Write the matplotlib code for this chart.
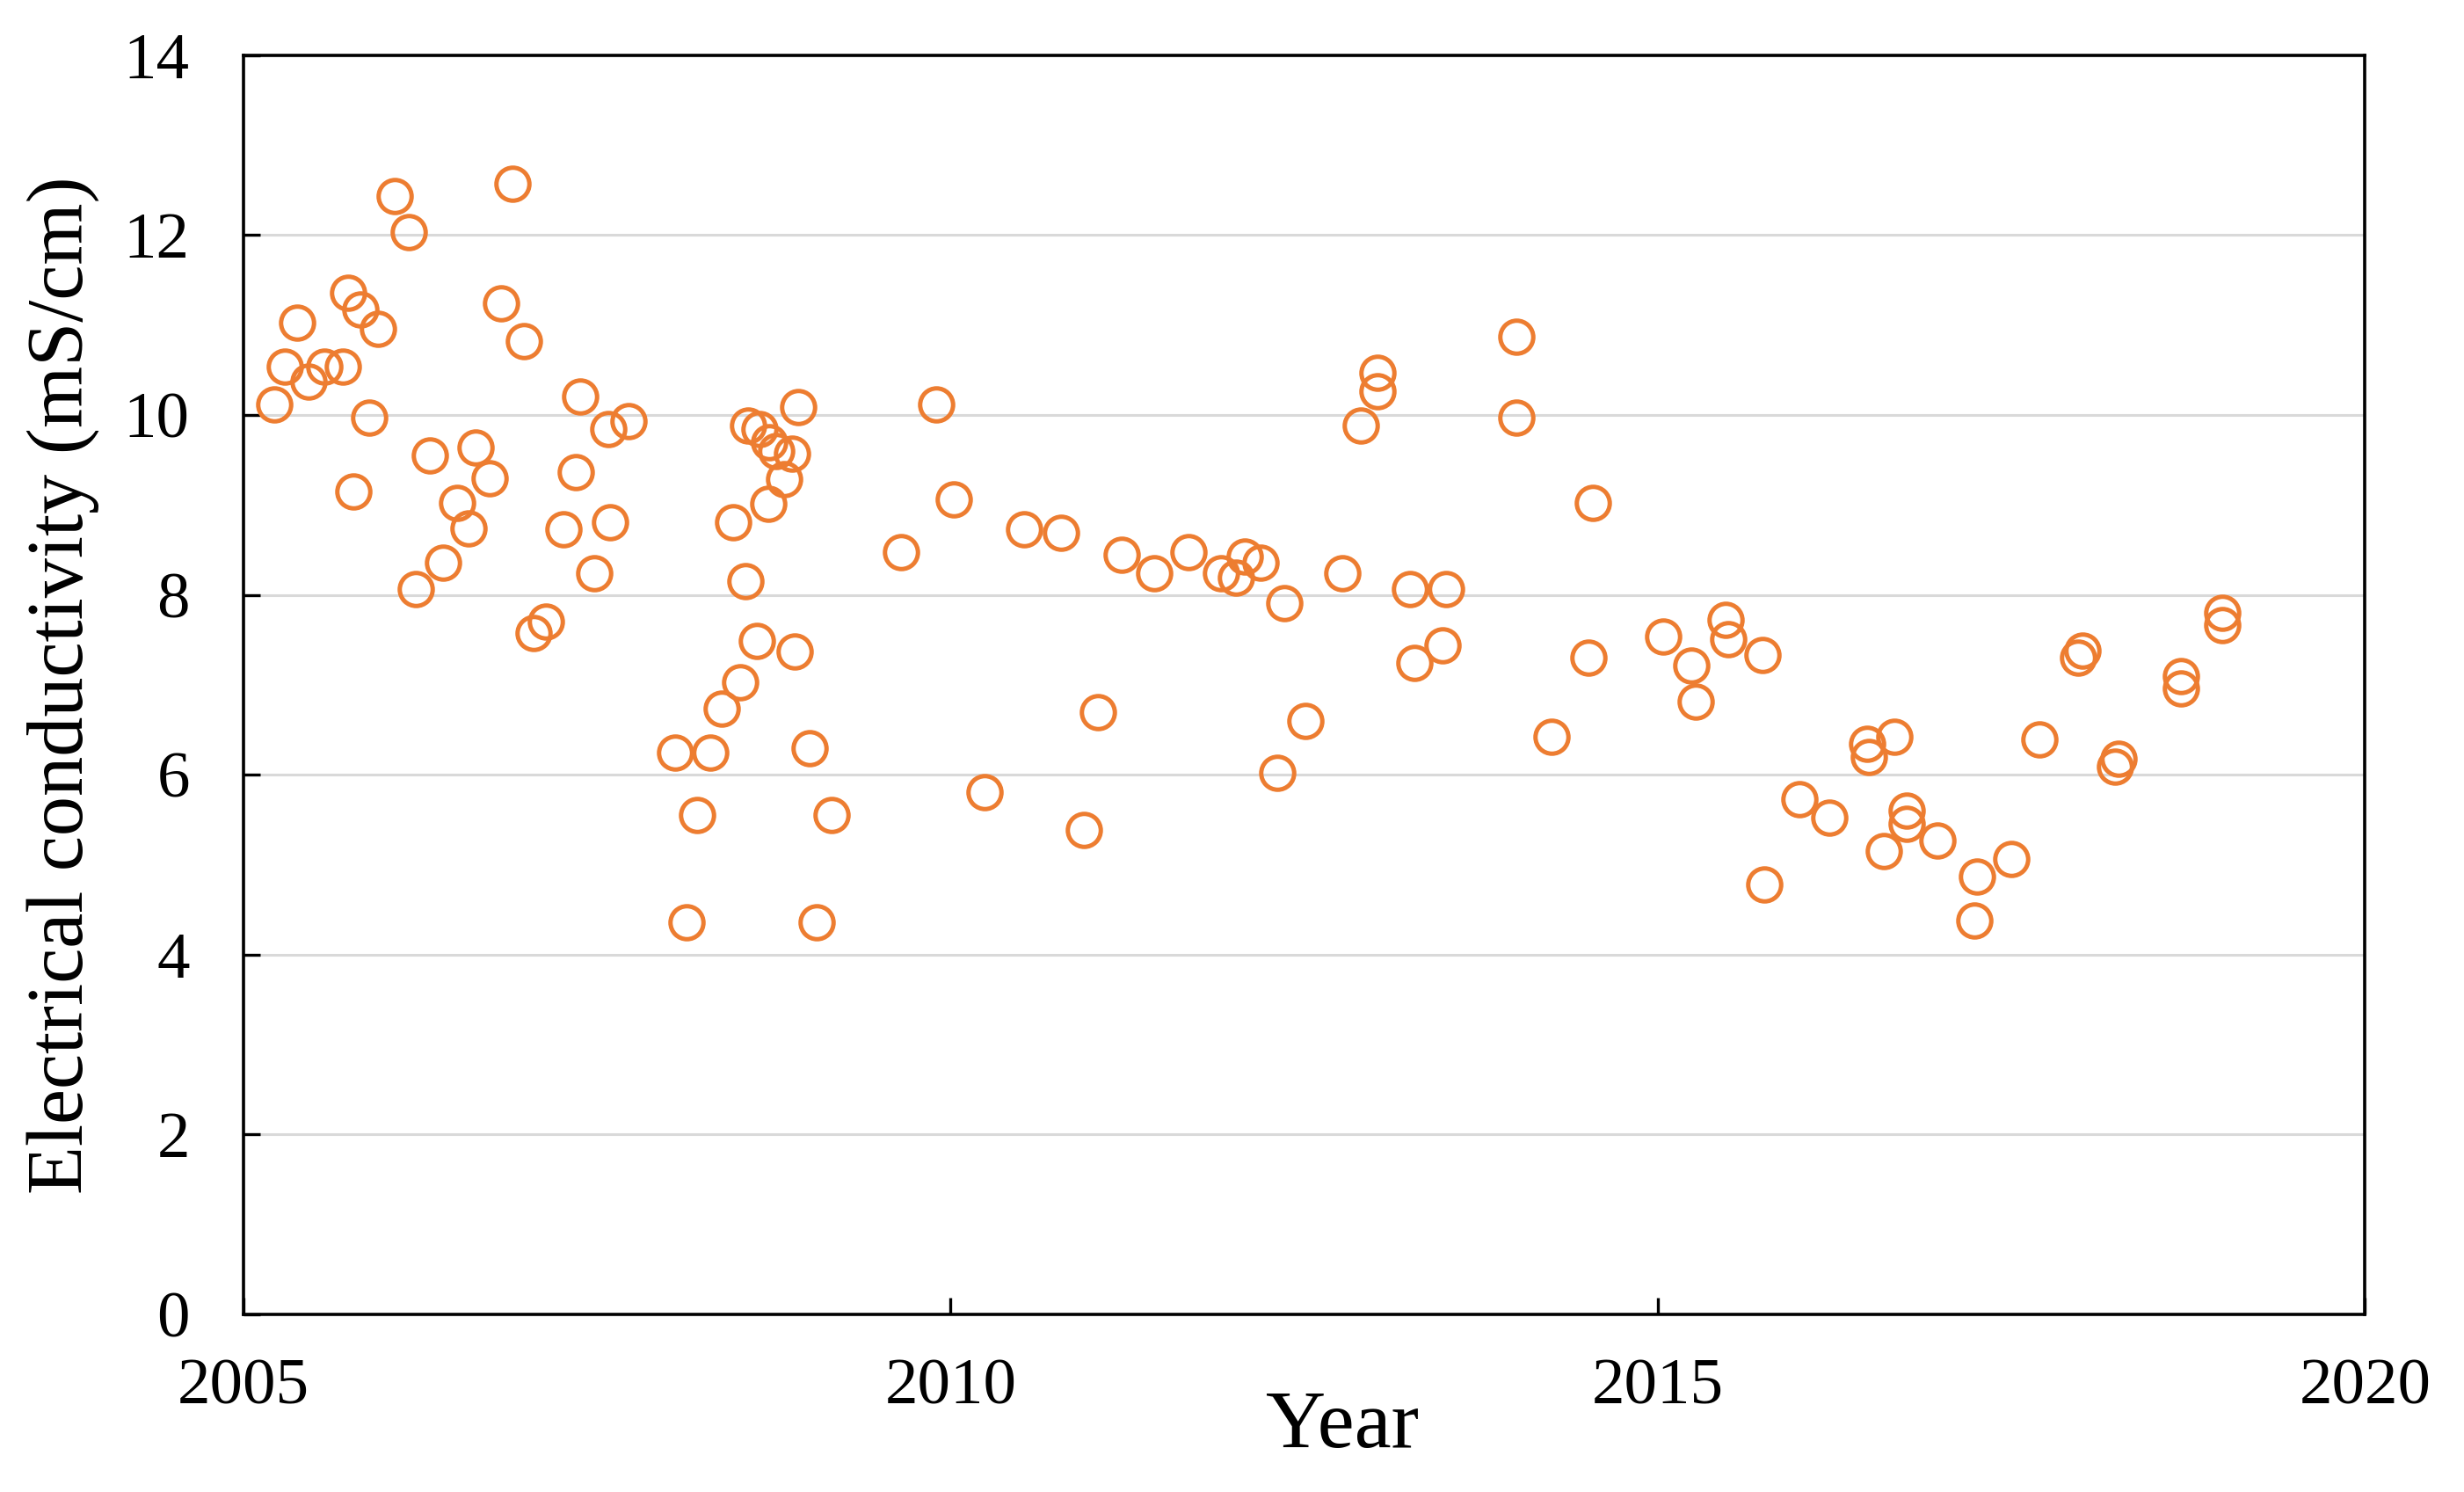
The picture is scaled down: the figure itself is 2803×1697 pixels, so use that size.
import matplotlib.pyplot as plt

# decimal year of each sample
year = [
    2005.22, 2005.29, 2005.38, 2005.46, 2005.57, 2005.70, 2005.74, 2005.78, 2005.83, 2005.89,
    2005.95, 2006.07, 2006.17, 2006.22, 2006.32, 2006.41, 2006.51, 2006.59, 2006.64, 2006.74,
    2006.82, 2006.90, 2006.98, 2007.05, 2007.14, 2007.26, 2007.35, 2007.38, 2007.48, 2007.58,
    2007.59, 2007.72, 2008.05, 2008.13, 2008.21, 2008.30, 2008.38, 2008.46, 2008.51, 2008.55,
    2008.57, 2008.63, 2008.65, 2008.71, 2008.72, 2008.77, 2008.82, 2008.88, 2008.90, 2008.92,
    2009.00, 2009.05, 2009.16, 2009.65, 2009.90, 2010.02, 2010.24, 2010.52, 2010.78, 2010.94,
    2011.04, 2011.21, 2011.44, 2011.68, 2011.91, 2012.02, 2012.08, 2012.19, 2012.31, 2012.36,
    2012.51, 2012.77, 2012.90, 2013.02, 2013.02, 2013.25, 2013.28, 2013.48, 2013.50, 2014.00,
    2014.00, 2014.25, 2014.51, 2014.54, 2015.04, 2015.24, 2015.27, 2015.48, 2015.50, 2015.74,
    2015.75, 2016.00, 2016.21, 2016.48, 2016.49, 2016.60, 2016.67, 2016.76, 2016.76, 2016.98,
    2017.24, 2017.26, 2017.50, 2017.70, 2017.97, 2018.00, 2018.23, 2018.26, 2018.70, 2018.70,
    2018.99, 2018.99,
]

# electrical conductivity (mS/cm)
ec = [
    10.12, 10.54, 11.03, 10.37, 10.54, 10.54, 11.36, 9.15, 11.17, 9.97,
    10.96, 12.43, 12.03, 8.06, 9.55, 8.36, 9.02, 8.74, 9.64, 9.30,
    11.24, 12.57, 10.82, 7.58, 7.70, 8.73, 9.36, 10.21, 8.24, 9.84,
    8.81, 9.93, 6.25, 4.36, 5.55, 6.25, 6.74, 8.81, 7.03, 8.15,
    9.88, 7.49, 9.84, 9.01, 9.70, 9.60, 9.29, 9.57, 7.37, 10.09,
    6.30, 4.36, 5.55, 8.48, 10.12, 9.06, 5.81, 8.73, 8.69, 5.39,
    6.70, 8.45, 8.24, 8.48, 8.24, 8.19, 8.43, 8.36, 6.02, 7.91,
    6.60, 8.24, 9.88, 10.47, 10.26, 8.06, 7.24, 7.44, 8.06, 10.87,
    9.97, 6.42, 7.30, 9.02, 7.54, 7.21, 6.81, 7.72, 7.51, 7.33,
    4.78, 5.73, 5.52, 6.34, 6.20, 5.15, 6.42, 5.60, 5.45, 5.27,
    4.38, 4.87, 5.06, 6.39, 7.30, 7.38, 6.09, 6.18, 6.96, 7.10,
    7.80, 7.66,
]

x_ticks = [2005, 2010, 2015, 2020]
y_ticks = [0, 2, 4, 6, 8, 10, 12, 14]

plt.rcParams["font.family"] = ["Liberation Serif", "DejaVu Serif"]

fig, ax = plt.subplots(figsize=(14.015, 8.485), dpi=200)
fig.subplots_adjust(left=0.0988, right=0.9598, top=0.963, bottom=0.119)

ax.plot(year, ec, linestyle="none", marker="o", markersize=13.5,
        markerfacecolor="none", markeredgecolor="#ED7D31", markeredgewidth=1.8,
        zorder=3)

ax.set_xlim(2005, 2020)
ax.set_ylim(0, 14)
ax.set_xticks(x_ticks)
ax.set_yticks(y_ticks)

ax.yaxis.grid(True, color="#d9d9d9", linewidth=1.1)
ax.set_axisbelow(True)

for s in ax.spines.values():
    s.set_linewidth(1.3)
    s.set_color("black")

ax.tick_params(axis="both", direction="in", length=7, width=1.2,
               labelsize=27, colors="black")
ax.tick_params(axis="y", pad=22)
ax.tick_params(axis="x", pad=18)

ax.set_xlabel("Year", fontsize=34)
ax.set_ylabel("Electrical conductivity (mS/cm)", fontsize=32.5)
ax.xaxis.set_label_coords(0.518, -0.06)
ax.yaxis.set_label_coords(-0.068, 0.5)

fig.savefig("out.png", dpi=200)
